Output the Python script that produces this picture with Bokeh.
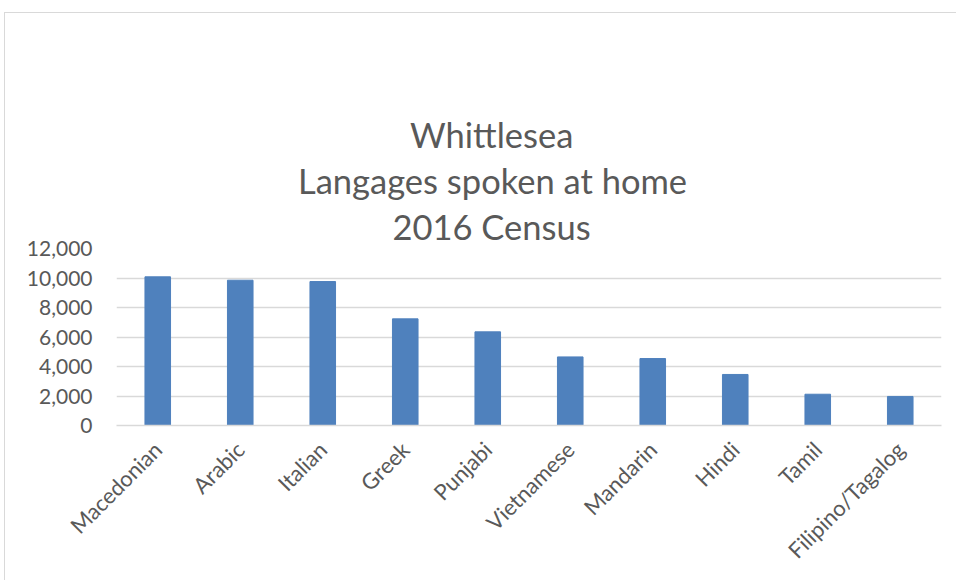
import math
from bokeh.plotting import figure
from bokeh.models import (ColumnDataSource, NumeralTickFormatter, FixedTicker, Range1d, Title)
from bokeh.embed import file_html
from bokeh.resources import INLINE

languages = ["Macedonian", "Arabic", "Italian", "Greek", "Punjabi", "Vietnamese",
             "Mandarin", "Hindi", "Tamil", "Filipino/Tagalog"]
speakers = [10080, 9850, 9760, 7230, 6350, 4650, 4540, 3460, 2120, 1970]
y_ticks = [0, 2000, 4000, 6000, 8000, 10000, 12000]
title_lines = ["Whittlesea", "Langages spoken at home", "2016 Census"]

FONT = "Lato"
TEXT = "#595959"
GRID = "#D9D9D9"

source = ColumnDataSource(dict(language=languages, speakers=speakers))

p = figure(x_range=languages, y_range=Range1d(0, 12000), width=952, height=568,
           output_backend="svg", toolbar_location=None, title=None,
           min_border_left=111, min_border_right=16, min_border_top=235,
           min_border_bottom=156)
p.margin = (13, 0, 0, 5)
p.styles = {"box-shadow": "-1px -1px 0 0 #d9d9d9"}

p.vbar(x="language", top="speakers", width=0.31, source=source,
       fill_color="#4F81BD", line_color="#4F81BD")

# blank spacer between the plot area and the title block
p.add_layout(Title(text=" ", text_font=FONT, text_font_size="10px",
                   text_color="white", text_alpha=0, standoff=68), "above")

# title lines, added from the bottom line upward; left aligned with offsets
# so that each line is centred on the chart title axis
title_offsets = {"2016 Census": 276, "Langages spoken at home": 181.5, "Whittlesea": 293.5}
for line in reversed(title_lines):
    p.add_layout(Title(text=line, align="left", offset=title_offsets[line],
                       text_font=FONT, text_font_size="34.5px",
                       text_font_style="normal", text_color=TEXT, standoff=3), "above")

p.outline_line_color = None
p.background_fill_color = "white"
p.border_fill_color = "white"

p.xgrid.grid_line_color = None
p.ygrid.grid_line_color = GRID
p.ygrid.grid_line_width = 1.5

p.yaxis.ticker = FixedTicker(ticks=y_ticks)
p.yaxis.formatter = NumeralTickFormatter(format="0,0")
p.yaxis.axis_line_color = None
p.yaxis.major_tick_line_color = None
p.yaxis.minor_tick_line_color = None
p.yaxis.major_label_standoff = 18
p.yaxis.major_label_text_font = FONT
p.yaxis.major_label_text_font_size = "21px"
p.yaxis.major_label_text_color = TEXT

xax = p.below[0]
xax.axis_line_color = GRID
xax.axis_line_width = 1.5
xax.major_tick_line_color = None
xax.minor_tick_line_color = None
xax.major_label_orientation = math.pi / 4
xax.major_label_standoff = 14
xax.major_label_text_font = FONT
xax.major_label_text_font_size = "22px"
xax.major_label_text_color = TEXT

open("out.html", "w").write(file_html(p, INLINE))
